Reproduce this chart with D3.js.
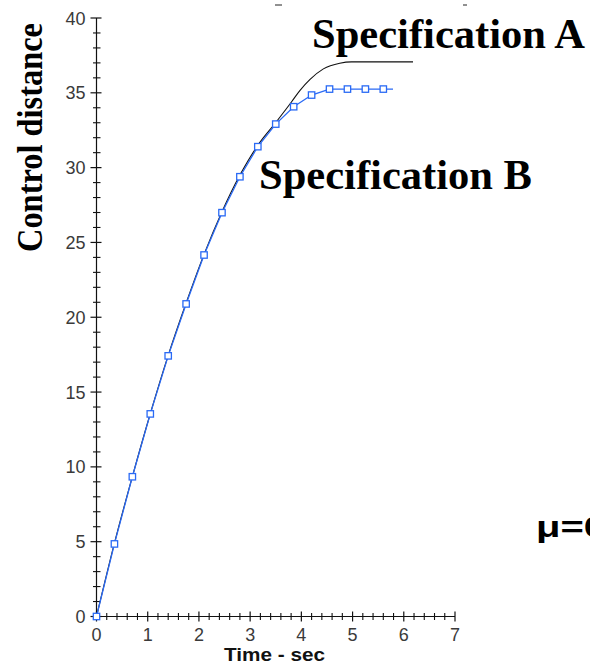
<!DOCTYPE html>
<html>
<head>
<meta charset="utf-8">
<script src="https://cdn.jsdelivr.net/npm/d3@7"></script>
<style>
  html, body { margin: 0; padding: 0; background: #fff; }
  svg { display: block; }
</style>
</head>
<body>
<svg id="chart" width="590" height="664"></svg>
<script>
// ---- data ----
const timeB = [0, 0.35, 0.7, 1.05, 1.4, 1.75, 2.1, 2.45, 2.8, 3.15, 3.5, 3.85, 4.2, 4.55, 4.9, 5.25, 5.6];
const distB = [0, 4.85, 9.34, 13.54, 17.42, 20.89, 24.16, 26.99, 29.39, 31.4, 32.91, 34.07, 34.85, 35.25, 35.25, 35.25, 35.25];
const lineEndB = { t: 5.79, d: 35.25 };

const timeA = [0, 0.35, 0.7, 1.05, 1.4, 1.75, 2.1, 2.45, 2.8, 3.15, 3.52, 3.81, 3.97, 4.17, 4.43, 4.75, 4.98, 6.18];
const distA = [0, 4.9, 9.35, 13.55, 17.45, 20.95, 24.2, 27.05, 29.5, 31.5, 33.1, 34.4, 35.15, 35.9, 36.6, 36.98, 37.07, 37.07];

const xTicks = [0, 1, 2, 3, 4, 5, 6, 7];
const xTickLabels = ["0", "1", "2", "3", "4", "5", "6", "7"];
const yTicks = [0, 5, 10, 15, 20, 25, 30, 35, 40];
const yTickLabels = ["0", "5", "10", "15", "20", "25", "30", "35", "40"];

const labelA = "Specification A";
const labelB = "Specification B";
const labelMu = "\u03bc=0";
const xTitle = "Time - sec";
const yTitle = "Control distance";

// ---- scales ----
const svg = d3.select("#chart");
const x = d3.scaleLinear().domain([0, 7]).range([96.5, 455]);
const y = d3.scaleLinear().domain([0, 40]).range([616.5, 18]);

const axisColor = "#111";
const g = svg.append("g");

// axis lines
g.append("line").attr("x1", x(0)).attr("x2", x(7)).attr("y1", y(0)).attr("y2", y(0))
  .attr("stroke", axisColor).attr("stroke-width", 1.2);
g.append("line").attr("x1", x(0)).attr("x2", x(0)).attr("y1", y(0)).attr("y2", y(40))
  .attr("stroke", axisColor).attr("stroke-width", 1.2);

// x ticks (major + minor)
const xMinor = d3.range(0, 7.0001, 0.2).filter(v => Math.abs(v - Math.round(v)) > 1e-6);
g.selectAll(".xmaj").data(xTicks).join("line")
  .attr("x1", d => x(d)).attr("x2", d => x(d))
  .attr("y1", y(0) - 5).attr("y2", y(0) + 5)
  .attr("stroke", axisColor).attr("stroke-width", 1.2);
g.selectAll(".xmin").data(xMinor).join("line")
  .attr("x1", d => x(d)).attr("x2", d => x(d))
  .attr("y1", y(0) - 3.5).attr("y2", y(0) + 3.5)
  .attr("stroke", axisColor).attr("stroke-width", 1.1);

// y ticks (major + minor)
const yMinor = d3.range(0, 40.0001, 1).filter(v => v % 5 !== 0);
g.selectAll(".ymaj").data(yTicks).join("line")
  .attr("x1", x(0) - 6).attr("x2", x(0) + 5)
  .attr("y1", d => y(d)).attr("y2", d => y(d))
  .attr("stroke", axisColor).attr("stroke-width", 1.2);
g.selectAll(".ymin").data(yMinor).join("line")
  .attr("x1", x(0) - 3.5).attr("x2", x(0) + 4)
  .attr("y1", d => y(d)).attr("y2", d => y(d))
  .attr("stroke", axisColor).attr("stroke-width", 1.1);

// tick labels
g.selectAll(".xl").data(xTicks).join("text")
  .attr("x", d => x(d)).attr("y", y(0) + 24)
  .attr("text-anchor", "middle")
  .attr("font-family", "Liberation Sans, Arial, sans-serif")
  .attr("font-size", 18).attr("fill", "#3a3a3a")
  .text((d, i) => xTickLabels[i]);
g.selectAll(".yl").data(yTicks).join("text")
  .attr("x", x(0) - 11).attr("y", d => y(d) + 6.5)
  .attr("text-anchor", "end")
  .attr("font-family", "Liberation Sans, Arial, sans-serif")
  .attr("font-size", 18).attr("fill", "#3a3a3a")
  .text((d, i) => yTickLabels[i]);

// axis titles
g.append("text")
  .attr("x", 224).attr("y", 661)
  .attr("font-family", "Liberation Sans, Arial, sans-serif")
  .attr("font-weight", "bold").attr("font-size", 17.5)
  .attr("textLength", 101).attr("lengthAdjust", "spacingAndGlyphs")
  .attr("fill", "#111")
  .text(xTitle);
g.append("text")
  .attr("transform", "translate(42,252) rotate(-90)")
  .attr("x", 0).attr("y", 0)
  .attr("font-family", "Liberation Serif, Times New Roman, serif")
  .attr("font-weight", "bold").attr("font-size", 35)
  .attr("textLength", 229).attr("lengthAdjust", "spacingAndGlyphs")
  .attr("fill", "#000")
  .text(yTitle);

// series A (black)
const ptsA = timeA.map((t, i) => [t, distA[i]]);
svg.append("path")
  .attr("d", d3.line().x(d => x(d[0])).y(d => y(d[1])).curve(d3.curveMonotoneX)(ptsA))
  .attr("fill", "none").attr("stroke", "#111").attr("stroke-width", 1.1);

// series B (blue)
const blue = "#2a6af5";
const ptsB = timeB.map((t, i) => [t, distB[i]]).concat([[lineEndB.t, lineEndB.d]]);
svg.append("path")
  .attr("d", d3.line().x(d => x(d[0])).y(d => y(d[1]))(ptsB))
  .attr("fill", "none").attr("stroke", blue).attr("stroke-width", 1.3);
svg.selectAll(".mk").data(timeB.map((t, i) => [t, distB[i]])).join("rect")
  .attr("x", d => x(d[0]) - 3.2).attr("y", d => y(d[1]) - 3.2)
  .attr("width", 6.4).attr("height", 6.4)
  .attr("fill", "#fff").attr("stroke", blue).attr("stroke-width", 1.3);

// annotations
svg.append("text")
  .attr("x", 312).attr("y", 48)
  .attr("font-family", "Liberation Serif, Times New Roman, serif")
  .attr("font-weight", "bold").attr("font-size", 42)
  .attr("textLength", 273).attr("lengthAdjust", "spacingAndGlyphs")
  .attr("fill", "#000").text(labelA);
svg.append("text")
  .attr("x", 259).attr("y", 189)
  .attr("font-family", "Liberation Serif, Times New Roman, serif")
  .attr("font-weight", "bold").attr("font-size", 42)
  .attr("textLength", 273).attr("lengthAdjust", "spacingAndGlyphs")
  .attr("fill", "#000").text(labelB);
svg.append("text")
  .attr("x", 536).attr("y", 537)
  .attr("font-family", "Liberation Sans, Arial, sans-serif")
  .attr("font-weight", "bold").attr("font-size", 29)
  .attr("textLength", 70).attr("lengthAdjust", "spacingAndGlyphs")
  .attr("fill", "#000").text(labelMu);

// small stray marks at top
svg.selectAll(".dash").data([[275, 282], [463, 467]]).join("line")
  .attr("x1", d => d[0]).attr("x2", d => d[1]).attr("y1", 5).attr("y2", 5)
  .attr("stroke", "#222").attr("stroke-width", 1);
</script>
</body>
</html>
